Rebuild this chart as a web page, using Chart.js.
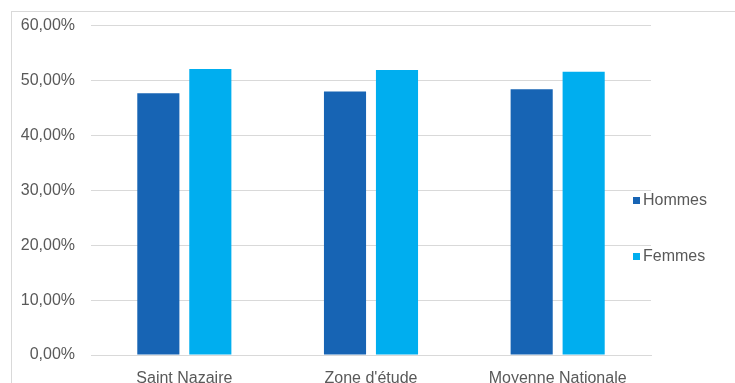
<!DOCTYPE html>
<html>
<head>
<meta charset="utf-8">
<script src="https://cdn.jsdelivr.net/npm/chart.js@4/dist/chart.umd.min.js"></script>
<style>
  body { margin: 0; background: #fff; overflow: hidden; }
  #frame { position: absolute; left: 11px; top: 11px; width: 800px; height: 400px;
           border-left: 1px solid #d9d9d9; border-top: 1px solid #d9d9d9; }
  #chart { position: absolute; left: 0; top: 0; }
</style>
</head>
<body>
<div id="frame"></div>
<canvas id="chart" width="735" height="383"></canvas>
<script>
const categories = ['Saint Nazaire', "Zone d'étude", 'Moyenne Nationale'];
const hommes = [47.7, 48.0, 48.4];
const femmes = [52.1, 51.9, 51.6];
const yTicks = [0, 10, 20, 30, 40, 50, 60];

const textColor = '#595959';
const font = { family: 'Liberation Sans, Arial, sans-serif', size: 16 };

// legend drawn by hand so it sits where the original one does
const sideLegend = {
    id: 'sideLegend',
    afterDraw(chart) {
        const ctx = chart.ctx;
        ctx.save();
        ctx.font = font.size + 'px ' + font.family;
        ctx.textBaseline = 'middle';
        chart.data.datasets.forEach((ds, i) => {
            const y = 200 + i * 56;
            ctx.fillStyle = ds.backgroundColor;
            ctx.fillRect(633, y - 3, 7, 7);
            ctx.fillStyle = textColor;
            ctx.fillText(ds.label, 643, y + 1);
        });
        ctx.restore();
    }
};

new Chart(document.getElementById('chart'), {
    type: 'bar',
    data: {
        labels: categories,
        datasets: [
            {
                label: 'Hommes',
                data: hommes,
                backgroundColor: '#1764b4',
                barPercentage: 0.81,
                categoryPercentage: 0.557
            },
            {
                label: 'Femmes',
                data: femmes,
                backgroundColor: '#00aeef',
                barPercentage: 0.81,
                categoryPercentage: 0.557
            }
        ]
    },
    plugins: [sideLegend],
    options: {
        responsive: false,
        animation: false,
        layout: { padding: { top: 24, right: 84, left: 0, bottom: 0 } },
        plugins: {
            legend: { display: false },
            tooltip: { enabled: false }
        },
        scales: {
            x: {
                grid: { display: false, drawTicks: false },
                border: { color: '#d9d9d9' },
                ticks: { color: textColor, font: font, padding: 14 },
                afterFit: s => { s.height = 28; }
            },
            y: {
                min: 0,
                max: 60,
                afterBuildTicks: s => { s.ticks = yTicks.map(v => ({ value: v })); },
                grid: { color: '#d9d9d9', drawTicks: false },
                border: { display: false },
                ticks: {
                    color: textColor,
                    font: font,
                    padding: 16,
                    callback: v => v.toFixed(2).replace('.', ',') + '%'
                },
                afterFit: s => { s.width = 91; }
            }
        }
    }
});
</script>
</body>
</html>
